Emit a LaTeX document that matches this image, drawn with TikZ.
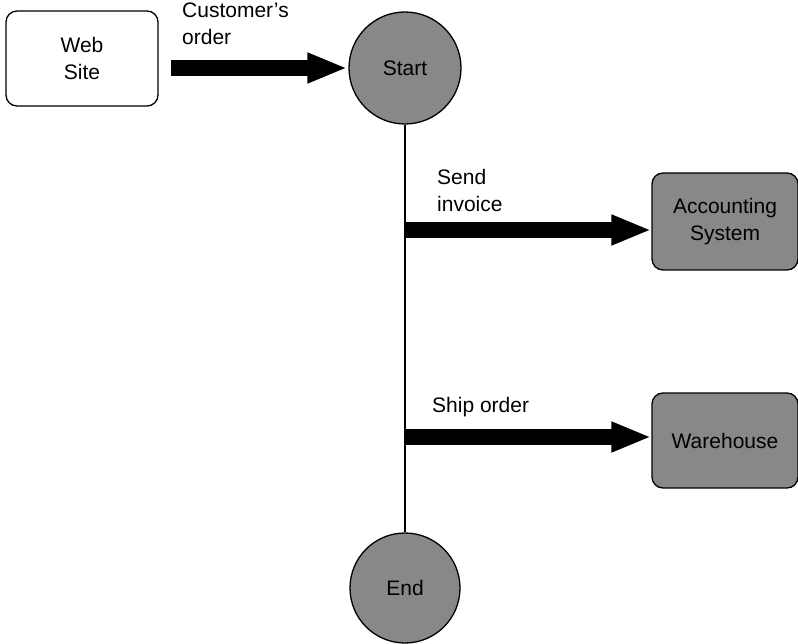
\documentclass[tikz,border=0pt]{standalone}
\usepackage{fontspec}
\setmainfont{Liberation Sans}
\usetikzlibrary{arrows.meta}
\definecolor{boxgray}{RGB}{136,136,136}
\tikzset{
  every node/.style={font=\fontsize{21}{27}\selectfont, align=center},
  ext/.style={draw, line width=1.3pt, rounded corners=11pt, inner sep=0pt},
  gbox/.style={ext, fill=boxgray},
  wbox/.style={ext, fill=white},
  evt/.style={draw, line width=1.3pt, circle, fill=boxgray, minimum size=112pt, inner sep=0pt},
  fat/.style={line width=16pt, -{Triangle[length=40pt,width=28pt]}},
  spine/.style={line width=1.3pt},
  lbl/.style={align=left, anchor=south west, inner sep=0pt}
}
\begin{document}
\begin{tikzpicture}[x=1pt,y=-1pt]
\useasboundingbox (0,0) rectangle (798,644);
\node[wbox, minimum width=152pt, minimum height=95pt] (web) at (82,58.5) {Web\\Site};
\node[evt] (start) at (405,68) {Start};
\node[evt, minimum size=110pt] (end) at (405,588) {End};
\node[gbox, minimum width=146pt, minimum height=97pt] (acc) at (725,221.5) {Accounting\\System};
\node[gbox, minimum width=146pt, minimum height=95pt] (wh) at (725,440.5) {Warehouse};
\draw[spine] (start.south) -- (end.north);
\coordinate (b1) at (405,230);
\coordinate (b2) at (405,437);
\draw[fat] ([xshift=12pt]web.east |- start.west) -- ([xshift=-1pt]start.west);
\draw[fat] (b1) -- (b1 -| acc.west);
\draw[fat] (b2) -- (b2 -| wh.west);
\node[lbl] (l1) at (182,45) {Customer's\\order};
\node[lbl] (l2) at (437,212) {Send\\invoice};
\node[lbl] (l3) at (432,417) {Ship order};
\end{tikzpicture}
\end{document}
